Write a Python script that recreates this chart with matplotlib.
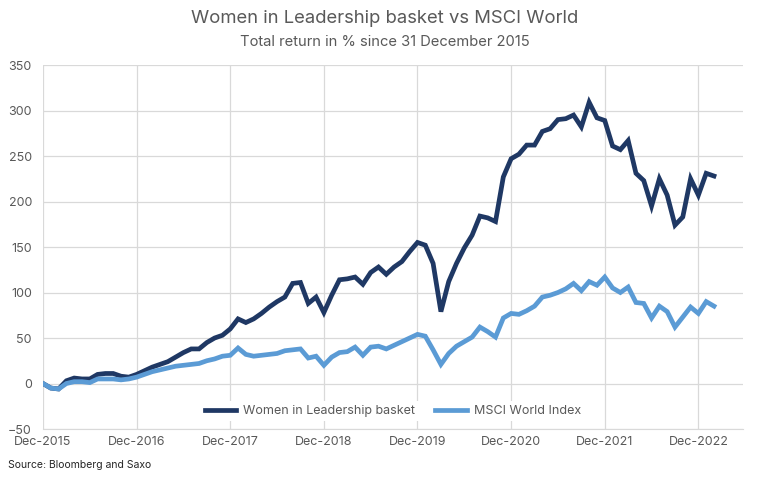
import matplotlib
matplotlib.use("Agg")
import matplotlib.pyplot as plt
import numpy as np

# Monthly observations, Dec-2015 .. Feb-2023
women = [0, -5, -6, 3, 6, 5, 5, 10, 11, 11, 8, 7,
         10, 14, 18, 21, 24, 29, 34, 38, 38, 45, 50, 53,
         60, 71, 67, 71, 77, 84, 90, 95, 110, 111, 88, 95,
         78, 97, 114, 115, 117, 109, 122, 128, 120, 128, 134, 145,
         155, 152, 132, 79, 112, 132, 149, 163, 184, 182, 178, 227,
         247, 252, 262, 262, 277, 280, 290, 291, 295, 282, 309, 292,
         289, 261, 257, 267, 231, 223, 195, 225, 207, 174, 183, 225,
         207, 231, 228]
msci = [0, -5, -6, 0, 2, 2, 1, 5, 5, 5, 4, 5,
        7, 10, 13, 15, 17, 19, 20, 21, 22, 25, 27, 30,
        31, 39, 32, 30, 31, 32, 33, 36, 37, 38, 28, 30,
        20, 29, 34, 35, 40, 31, 40, 41, 38, 42, 46, 50,
        54, 52, 37, 21, 33, 41, 46, 51, 62, 57, 51, 72,
        77, 76, 80, 85, 95, 97, 100, 104, 110, 102, 112, 108,
        117, 105, 100, 106, 89, 88, 72, 85, 79, 62, 73, 84,
        77, 90, 85]
tick_labels = ["Dec-2015", "Dec-2016", "Dec-2017", "Dec-2018",
               "Dec-2019", "Dec-2020", "Dec-2021", "Dec-2022"]
series_names = ["Women in Leadership basket", "MSCI World Index"]

plt.rcParams['font.family'] = ['Inter', 'DejaVu Sans']
fig = plt.figure(figsize=(7.69, 4.78), dpi=100)
ax = fig.add_axes([0.0559, 0.1025, 0.9101, 0.7615])

x = np.arange(len(women))
ax.plot(x, women, color="#1F3864", lw=3.4, label=series_names[0], solid_joinstyle="miter", zorder=3)
ax.plot(x, msci, color="#5B9BD5", lw=3.4, label=series_names[1], solid_joinstyle="miter", zorder=3)

ax.set_ylim(-50, 350)
ax.set_yticks(np.arange(-50, 351, 50))
ax.set_xlim(0, 89.7)
ax.set_xticks(np.arange(0, 12 * len(tick_labels), 12))
ax.set_xticklabels(tick_labels)

ax.grid(True, color="#D9D9D9", lw=0.9, zorder=0)
ax.set_axisbelow(True)
for s in ["left", "right", "top"]:
    ax.spines[s].set_visible(False)
ax.spines["bottom"].set_color("#D9D9D9")
ax.tick_params(axis="both", length=0, colors="#595959", labelsize=9)
ax.tick_params(axis="x", pad=5)
ax.tick_params(axis="y", pad=8)

leg = ax.legend(loc="lower center", bbox_to_anchor=(0.5, 0.005), ncol=2, frameon=True,
                fontsize=9, handlelength=2.5, handletextpad=0.6, columnspacing=1.6, borderpad=0.3)
leg.get_frame().set_edgecolor("none")
leg.get_frame().set_facecolor("white")
leg.get_frame().set_alpha(1)
for t in leg.get_texts():
    t.set_color("#595959")

fig.text(0.5, 0.961, "Women in Leadership basket vs MSCI World", ha="center", va="center",
         fontsize=13.3, color="#595959")
fig.text(0.5, 0.912, "Total return in % since 31 December 2015", ha="center", va="center",
         fontsize=10.6, color="#595959")
fig.text(0.011, 0.027, "Source: Bloomberg and Saxo", ha="left", va="center",
         fontsize=7.5, color="#262626")

fig.savefig("out.png", dpi=100)
